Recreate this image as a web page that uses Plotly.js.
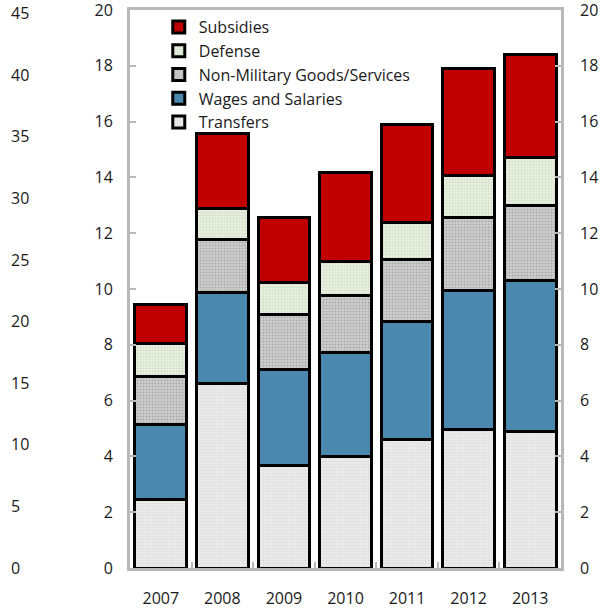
<!DOCTYPE html>
<html>
<head>
<meta charset="utf-8">
<script src="https://cdn.plot.ly/plotly-3.0.1.min.js"></script>
<style>
  html, body { margin: 0; padding: 0; background: #fff; }
  #chart { width: 605px; height: 610px; }
</style>
</head>
<body>
<div id="chart"></div>
<script>
// Government spending by component, stacked by year
const years = ['2007', '2008', '2009', '2010', '2011', '2012', '2013'];

const transfers   = [2.47, 6.60, 3.66, 4.01, 4.62, 4.98, 4.91];
const wages       = [2.69, 3.26, 3.47, 3.70, 4.20, 4.98, 5.38];
const nonMilitary = [1.72, 1.90, 1.97, 2.07, 2.22, 2.62, 2.72];
const defense     = [1.15, 1.14, 1.15, 1.19, 1.33, 1.49, 1.72];
const subsidies   = [1.43, 2.69, 2.33, 3.19, 3.54, 3.85, 3.66];

const innerTicks = [0, 2, 4, 6, 8, 10, 12, 14, 16, 18, 20];
const outerTicks = [0, 5, 10, 15, 20, 25, 30, 35, 40, 45];

const FONT = 'Open Sans, Noto Sans, sans-serif';
const TXT = '#1a1a1a';
const AXIS_GREY = '#b8b8b8';
const outline = { color: '#000000', width: 3 };

function barTrace(name, values, color, pattern) {
  const marker = { color: color, line: outline };
  if (pattern) marker.pattern = pattern;
  return { type: 'bar', name: name, x: years, y: values, marker: marker,
           xaxis: 'x', yaxis: 'y', hoverinfo: 'x+y+name' };
}

const dots = (bg, fg) => ({ shape: '.', bgcolor: bg, fgcolor: fg, size: 3, solidity: 0.35 });

// invisible carrier so an overlaying scale gets drawn
const carrier = (yaxis) => ({ type: 'scatter', x: [years[0]], y: [0], xaxis: 'x', yaxis: yaxis,
  mode: 'markers', marker: { opacity: 0 }, showlegend: false, hoverinfo: 'skip' });

const data = [
  barTrace('Transfers', transfers, '#ececec', dots('#ececec', '#dcdcdc')),
  barTrace('Wages and Salaries', wages, '#4a88ad'),
  barTrace('Non-Military Goods/Services', nonMilitary, '#cacaca', dots('#cfcfcf', '#a9a9a9')),
  barTrace('Defense', defense, '#e7efdf', dots('#e9f1e1', '#d2dcc6')),
  barTrace('Subsidies', subsidies, '#c00000'),
  carrier('y2'),
  carrier('y3')
];

const plotLeft = 130, paperLeft = 10, paperRight = 561;
const xDomStart = (plotLeft - paperLeft) / (paperRight - paperLeft);

const tickFont = { family: FONT, size: 16, color: TXT };

const layout = {
  width: 605, height: 610,
  margin: { l: paperLeft, r: 605 - paperRight, t: 10, b: 42 },
  paper_bgcolor: '#ffffff', plot_bgcolor: '#ffffff',
  font: { family: FONT, size: 16, color: TXT },
  barmode: 'stack',
  bargap: 0.16,
  showlegend: true,
  legend: {
    x: 0.27, y: 1.0, xanchor: 'left', yanchor: 'top',
    traceorder: 'reversed', itemwidth: 30,
    bgcolor: 'rgba(0,0,0,0)', borderwidth: 0,
    font: { family: FONT, size: 16, color: TXT },
    tracegroupgap: 0
  },
  xaxis: {
    domain: [xDomStart, 1],
    type: 'category',
    tickvals: years, ticktext: years,
    tickson: 'boundaries',
    ticks: 'inside', ticklen: 6, tickwidth: 2, tickcolor: AXIS_GREY,
    showline: true, linecolor: AXIS_GREY, linewidth: 3, mirror: true,
    showgrid: false, zeroline: false,
    ticklabelstandoff: 14,
    tickfont: tickFont
  },
  yaxis: {
    range: [0, 20],
    tickvals: innerTicks,
    ticks: 'inside', ticklen: 6, tickwidth: 2, tickcolor: AXIS_GREY,
    showline: true, linecolor: AXIS_GREY, linewidth: 3, mirror: 'ticks',
    showgrid: false, zeroline: false,
    ticklabelstandoff: 11,
    ticklabeloverflow: 'allow',
    tickfont: tickFont
  },
  yaxis2: {
    range: [0, 20],
    overlaying: 'y', side: 'right', anchor: 'x',
    tickvals: innerTicks,
    ticks: '', showline: false, showgrid: false, zeroline: false,
    ticklabelstandoff: 18,
    ticklabeloverflow: 'allow',
    tickfont: tickFont
  },
  yaxis3: {
    range: [0, 45.3],
    overlaying: 'y', side: 'right', anchor: 'free', position: 0,
    tickvals: outerTicks,
    ticks: '', showline: false, showgrid: false, zeroline: false,
    ticklabeloverflow: 'allow',
    tickfont: tickFont
  }
};

Plotly.newPlot('chart', data, layout, { displayModeBar: false, staticPlot: true });
</script>
</body>
</html>
